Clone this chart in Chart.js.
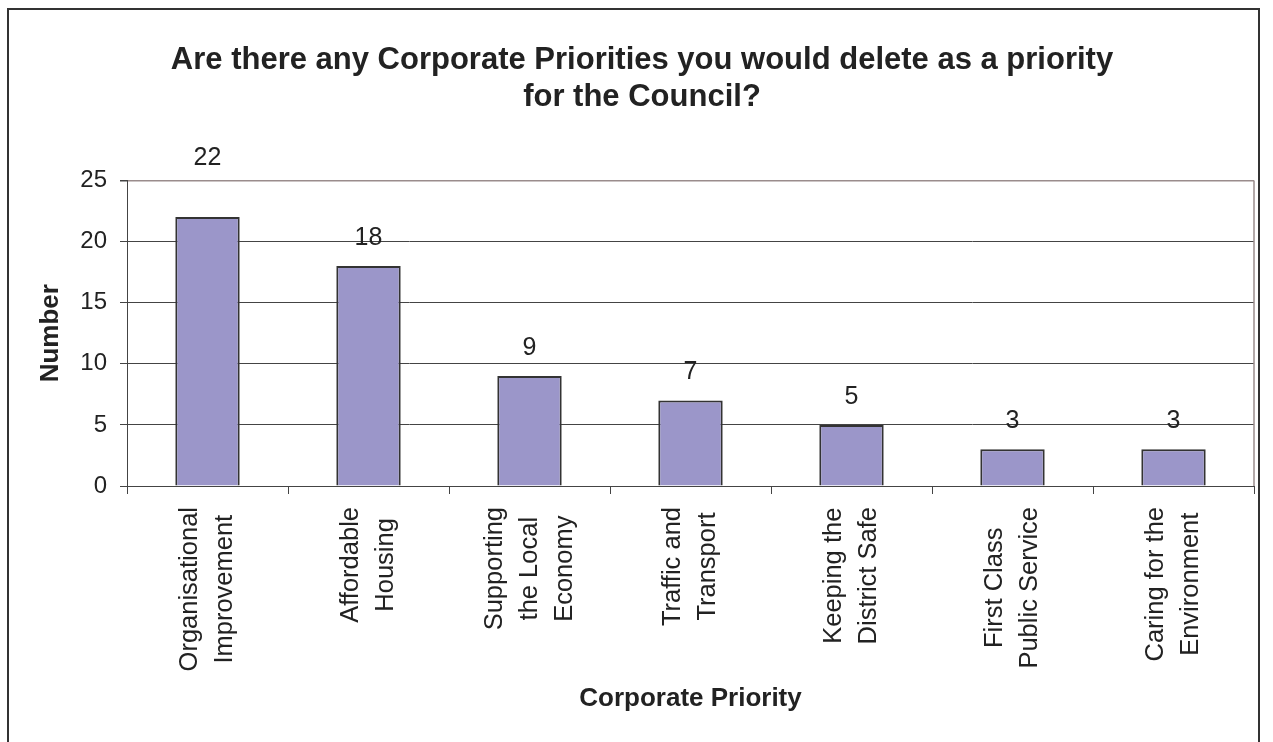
<!DOCTYPE html>
<html>
<head>
<meta charset="utf-8">
<script src="https://cdn.jsdelivr.net/npm/chart.js@4/dist/chart.umd.min.js"></script>
<style>
  html, body { margin: 0; padding: 0; background: #fff; overflow: hidden; }
  #frame { position: absolute; left: 7px; top: 8px; width: 1253px; height: 760px; border: 2px solid #333; box-sizing: border-box; }
  #chart { position: absolute; left: 0; top: 0; }
</style>
</head>
<body>
<div id="frame"></div>
<canvas id="chart" width="1273" height="742"></canvas>
<script>
// ── Datos ─────────────────────────────────────────────────────────────────────
const titleLines = ['Are there any Corporate Priorities you would delete as a priority', 'for the Council?'];
const categories = [
  ['Organisational', 'Improvement'],
  ['Affordable', 'Housing'],
  ['Supporting', 'the Local', 'Economy'],
  ['Traffic and', 'Transport'],
  ['Keeping the', 'District Safe'],
  ['First Class', 'Public Service'],
  ['Caring for the', 'Environment'],
];
const counts = [22, 18, 9, 7, 5, 3, 3];
const yTicks = [0, 5, 10, 15, 20, 25];

const FONT = '"Liberation Sans", Arial, sans-serif';
const TEXT = '#222';
const GRID = '#444';
const FRAME = '#9a8c8c';

// ── Plugin: etiquetas del eje X centradas + valores sobre barras ─────────────
const decorations = {
  id: 'decorations',
  afterDraw(chart) {
    const { ctx, chartArea } = chart;
    const xs = chart.scales.x;
    ctx.save();

    // borde derecho del área
    ctx.strokeStyle = FRAME;
    ctx.lineWidth = 1.5;
    ctx.beginPath();
    ctx.moveTo(chartArea.right, chartArea.top);
    ctx.lineTo(chartArea.right, chartArea.bottom);
    ctx.stroke();

    // etiquetas de categoría, giradas y centradas
    ctx.fillStyle = TEXT;
    ctx.font = `25.5px ${FONT}`;
    ctx.textAlign = 'center';
    ctx.textBaseline = 'middle';
    const spacing = 35;
    categories.forEach((lines, i) => {
      const cx = xs.getPixelForTick(i);
      const w = Math.max(...lines.map(l => ctx.measureText(l).width));
      const cy = chartArea.bottom + 21 + w / 2;
      lines.forEach((line, j) => {
        const x = cx + (j - (lines.length - 1) / 2) * spacing;
        ctx.save();
        ctx.translate(x, cy);
        ctx.rotate(-Math.PI / 2);
        ctx.fillText(line, 0, 0);
        ctx.restore();
      });
    });

    // valores
    ctx.font = `25px ${FONT}`;
    const meta = chart.getDatasetMeta(0);
    meta.data.forEach((bar, i) => {
      let y = bar.y - 28;
      if (y - 12 < chartArea.top && y + 12 > chartArea.top) y = chartArea.top - 22;
      ctx.fillText(String(counts[i]), bar.x, y);
    });
    ctx.restore();
  },
};

// ── Gráfica ──────────────────────────────────────────────────────────────────
new Chart(document.getElementById('chart'), {
  type: 'bar',
  data: {
    labels: categories,
    datasets: [{
      data: counts,
      backgroundColor: '#9b96c9',
      borderColor: '#333',
      borderWidth: 2,
      barPercentage: 0.8,
      categoryPercentage: 0.5,
    }],
  },
  options: {
    responsive: false,
    animation: false,
    layout: { padding: { left: 30, right: 19, top: 0, bottom: 0 } },
    plugins: {
      legend: { display: false },
      tooltip: { enabled: false },
      title: {
        display: true,
        text: titleLines,
        color: TEXT,
        font: { family: FONT, size: 31, weight: 'bold', lineHeight: 1.2 },
        padding: { top: 42, bottom: 64 },
      },
    },
    scales: {
      x: {
        afterFit: s => { s.height = 256; },
        ticks: { display: false },
        grid: { offset: true, drawOnChartArea: false, drawTicks: true, tickLength: 8, color: GRID },
        border: { color: GRID, width: 1 },
        title: {
          display: true,
          text: 'Corporate Priority',
          color: TEXT,
          font: { family: FONT, size: 26, weight: 'bold', lineHeight: 1.2 },
          padding: { top: 0, bottom: 28 },
        },
      },
      y: {
        min: 0,
        max: 25,
        afterFit: s => { s.width = 97; },
        afterBuildTicks: s => { s.ticks = yTicks.map(v => ({ value: v })); },
        ticks: { color: TEXT, font: { family: FONT, size: 24 }, padding: 13 },
        grid: {
          color: ctx => (ctx.tick && ctx.tick.value === 25 ? FRAME : GRID),
          lineWidth: ctx => (ctx.tick && ctx.tick.value === 25 ? 1.5 : 1),
          tickLength: 7,
          tickColor: GRID,
        },
        border: { color: GRID, width: 1 },
        title: {
          display: true,
          text: 'Number',
          color: TEXT,
          font: { family: FONT, size: 26, weight: 'bold', lineHeight: 1.2 },
          padding: { top: 5, bottom: 0 },
        },
      },
    },
  },
  plugins: [decorations],
});
</script>
</body>
</html>
